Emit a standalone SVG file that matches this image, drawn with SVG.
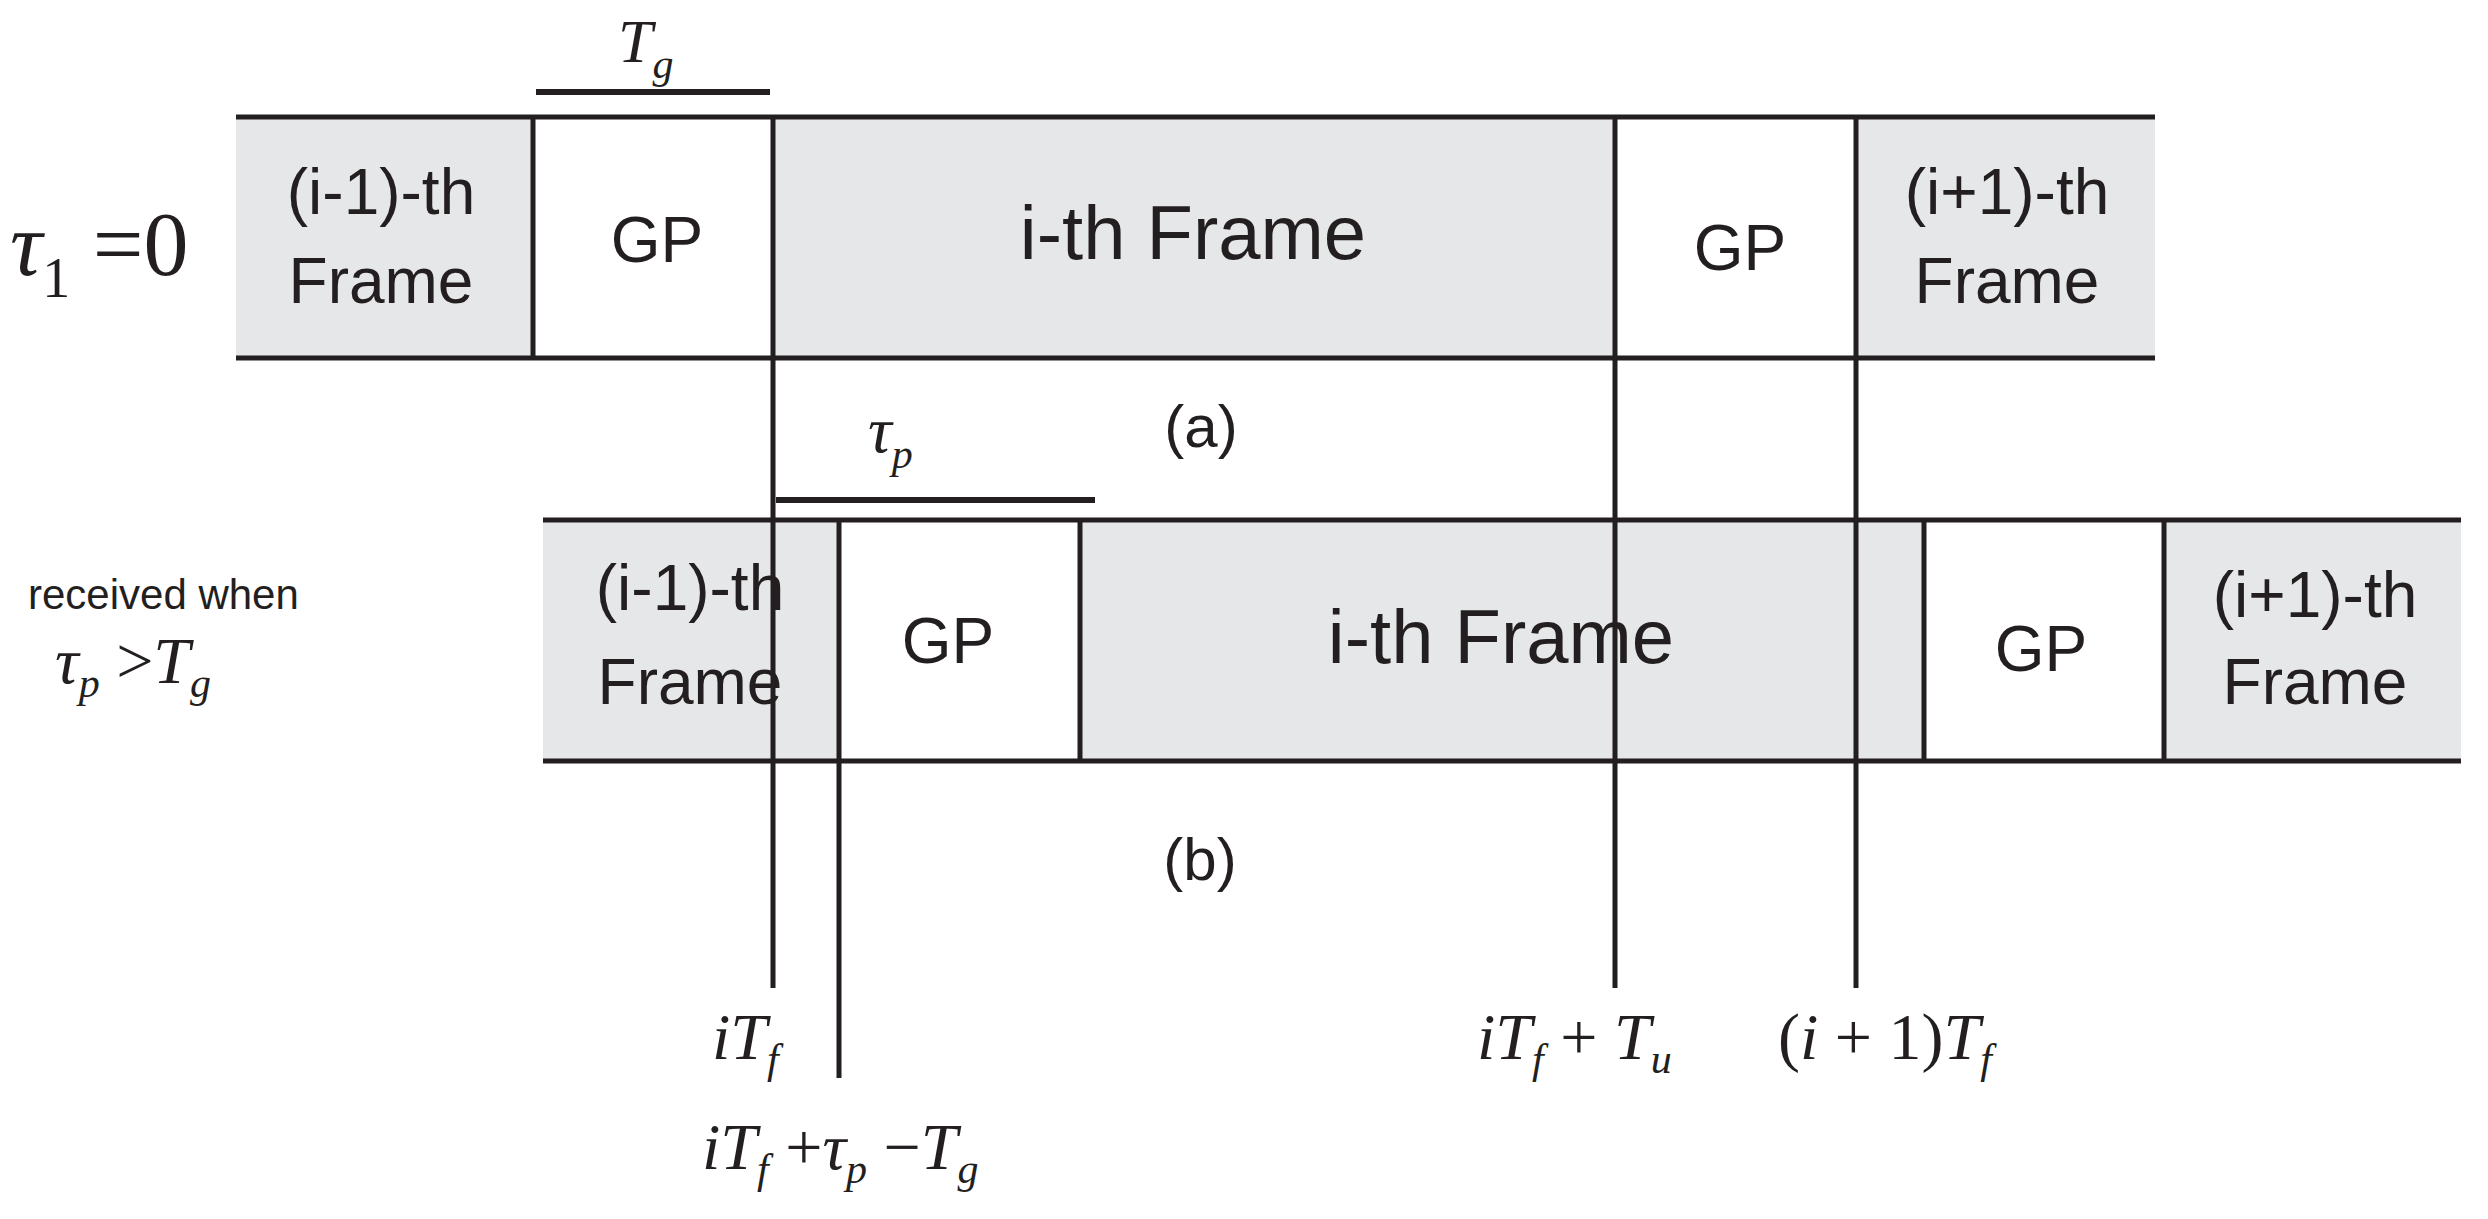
<svg xmlns="http://www.w3.org/2000/svg" width="2488" height="1219" viewBox="0 0 2488 1219">
<style>
.g{fill:#e6e7e8}
.ln{stroke:#231f20;stroke-width:5;fill:none}
.t{font-family:"Liberation Sans Narrow","Liberation Sans",sans-serif;fill:#231f20;text-anchor:middle}
.m{font-family:"Liberation Serif",serif;font-style:italic;fill:#231f20}
.r{font-family:"Liberation Serif",serif;fill:#231f20}
</style>
<defs>
<marker id="ah" viewBox="0 0 10 10" refX="10" refY="5" markerWidth="6" markerHeight="6" orient="auto-start-reverse" markerUnits="userSpaceOnUse">
<path d="M0,0 L10,5 L0,10 L3,5 Z" fill="#231f20"/>
</marker>
</defs>
<rect width="2488" height="1219" fill="#fff"/>
<g id="barA">
<rect class="g" x="236" y="117" width="297" height="241"/>
<rect class="g" x="773" y="117" width="842" height="241"/>
<rect class="g" x="1856" y="117" width="299" height="241"/>
<line class="ln" x1="236" y1="117" x2="2155" y2="117"/>
<line class="ln" x1="236" y1="358" x2="2155" y2="358"/>
<line class="ln" x1="533" y1="117" x2="533" y2="358"/>
<text class="t" x="381" y="214" font-size="64">(i-1)-th</text>
<text class="t" x="381" y="303" font-size="64">Frame</text>
<text class="t" x="657" y="262" font-size="64">GP</text>
<text class="t" x="1193" y="259" font-size="76">i-th Frame</text>
<text class="t" x="1740" y="270" font-size="64">GP</text>
<text class="t" x="2007" y="214" font-size="64">(i+1)-th</text>
<text class="t" x="2007" y="303" font-size="64">Frame</text>
</g>
<g id="barB">
<rect class="g" x="543" y="520" width="296" height="241"/>
<rect class="g" x="1080" y="520" width="844" height="241"/>
<rect class="g" x="2164" y="520" width="297" height="241"/>
<line class="ln" x1="543" y1="520" x2="2461" y2="520"/>
<line class="ln" x1="543" y1="761" x2="2461" y2="761"/>
<line class="ln" x1="1080" y1="520" x2="1080" y2="761"/>
<line class="ln" x1="1924" y1="520" x2="1924" y2="761"/>
<line class="ln" x1="2164" y1="520" x2="2164" y2="761"/>
<text class="t" x="690" y="610" font-size="64">(i-1)-th</text>
<text class="t" x="690" y="704" font-size="64">Frame</text>
<text class="t" x="948" y="663" font-size="64">GP</text>
<text class="t" x="1501" y="663" font-size="76">i-th Frame</text>
<text class="t" x="2041" y="671" font-size="64">GP</text>
<text class="t" x="2315" y="617" font-size="64">(i+1)-th</text>
<text class="t" x="2315" y="704" font-size="64">Frame</text>
</g>
<g id="connectors">
<line class="ln" x1="773" y1="117" x2="773" y2="988"/>
<line class="ln" x1="839" y1="520" x2="839" y2="1078"/>
<line class="ln" x1="1615" y1="117" x2="1615" y2="988"/>
<line class="ln" x1="1856" y1="117" x2="1856" y2="988"/>
<line class="ln" x1="536" y1="92" x2="770" y2="92" marker-start="url(#ah)" marker-end="url(#ah)" style="stroke-width:6"/>
<line class="ln" x1="776" y1="500" x2="1095" y2="500" marker-start="url(#ah)" marker-end="url(#ah)" style="stroke-width:6"/>
</g>
<g id="labels">
<text class="m" x="618" y="62" font-size="62">T<tspan font-size="42" dy="16">g</tspan></text>
<text class="m" x="868" y="452" font-size="66">τ<tspan font-size="42" dy="16">p</tspan></text>
<text class="m" x="10" y="275" font-size="90">τ<tspan class="r" font-style="normal" font-size="56" dy="22">1</tspan><tspan class="r" font-style="normal" dy="-22"> =0</tspan></text>
<text class="t" x="1201" y="447" font-size="60">(a)</text>
<text class="t" x="1200" y="880" font-size="60">(b)</text>
<text x="28" y="609" font-size="42" font-family="Liberation Sans Narrow, Liberation Sans, sans-serif" fill="#231f20">received when</text>
<text class="m" x="55" y="683" font-size="66">τ<tspan font-size="42" dy="14">p</tspan><tspan class="r" font-style="normal" dy="-14"> &gt;</tspan>T<tspan font-size="42" dy="14">g</tspan></text>
<text class="m" x="712" y="1059" font-size="66">iT<tspan font-size="42" dy="14">f</tspan></text>
<text class="m" x="702" y="1169" font-size="66">iT<tspan font-size="42" dy="14">f</tspan><tspan class="r" font-style="normal" dy="-14"> +</tspan>τ<tspan font-size="42" dy="14">p</tspan><tspan class="r" font-style="normal" dy="-14"> −</tspan>T<tspan font-size="42" dy="14">g</tspan></text>
<text class="m" x="1477" y="1059" font-size="66">iT<tspan font-size="42" dy="14">f</tspan><tspan class="r" font-style="normal" dy="-14"> + </tspan>T<tspan font-size="42" dy="14">u</tspan></text>
<text class="m" x="1778" y="1059" font-size="66"><tspan class="r" font-style="normal">(</tspan>i<tspan class="r" font-style="normal"> + 1)</tspan>T<tspan font-size="42" dy="14">f</tspan></text>
</g>
</svg>
